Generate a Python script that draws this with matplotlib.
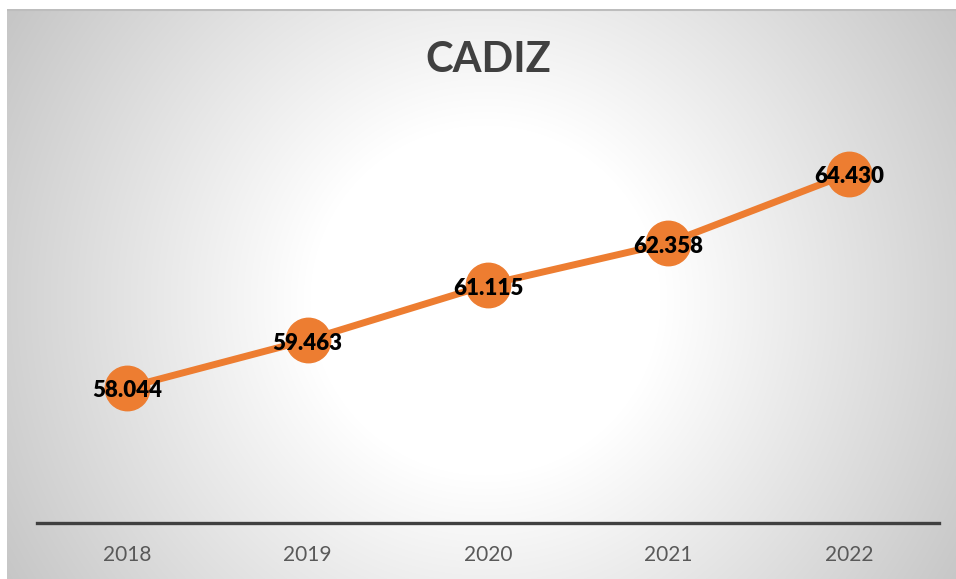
import numpy as np
import matplotlib.pyplot as plt

# Chart data
years = ['2018', '2019', '2020', '2021', '2022']
values = [58.044, 59.463, 61.115, 62.358, 64.430]
labels = ['58.044', '59.463', '61.115', '62.358', '64.430']

W, H = 956, 579
fig = plt.figure(figsize=(W / 100, H / 100), dpi=100)
fig.patch.set_facecolor('white')

# Background panel with radial gradient (white centre, grey edges)
px0, py0 = 7, 9
pw, ph = W - px0, H - py0
bg = fig.add_axes([px0 / W, 0, pw / W, ph / H])
yy, xx = np.mgrid[0:ph, 0:pw]
cx, cy = 485 - px0, 300 - py0
d = np.sqrt((xx - cx) ** 2 + (yy - cy) ** 2)
r0, R = 175, 555
t = np.clip((d - r0) / (R - r0), 0, 1)
shade = (255 - 57 * t) / 255
img = np.dstack([shade, shade, shade])
bg.imshow(img, aspect='auto', interpolation='bilinear')
bg.axhline(0, color='#bdbdbd', lw=1.5)
bg.set_axis_off()

# Main plot
ax = fig.add_axes([37 / W, 1 - 523 / H, (939 - 37) / W, (523 - 121) / H])
ax.patch.set_alpha(0)
x = np.arange(len(years))
ax.plot(x, values, color='#ED7D31', lw=5, marker='o', markersize=32,
        markerfacecolor='#ED7D31', markeredgecolor='#ED7D31', solid_capstyle='round')
for xi, v, lab in zip(x, values, labels):
    ax.annotate(lab, (xi, v), xytext=(0, -1), textcoords='offset points',
                ha='center', va='center_baseline', fontsize=16, fontweight='heavy',
                family=['Lato', 'DejaVu Sans'], color='black')

ax.set_xlim(-0.5, len(years) - 0.5)
ax.set_ylim(54, 66)
ax.set_yticks([])
ax.set_xticks(x)
ax.set_xticklabels(years, fontsize=15, color='#595959', family=['Lato', 'DejaVu Sans'])
ax.tick_params(axis='x', length=0, pad=16)
for s in ['top', 'right', 'left']:
    ax.spines[s].set_visible(False)
ax.spines['bottom'].set_color('#404040')
ax.spines['bottom'].set_linewidth(2.4)

fig.text(488 / W, 1 - 60 / H, 'CADIZ', ha='center', va='center', fontsize=30,
         fontweight='bold', color='#404040', family=['Lato', 'DejaVu Sans'])

fig.savefig('out.png', dpi=100)
